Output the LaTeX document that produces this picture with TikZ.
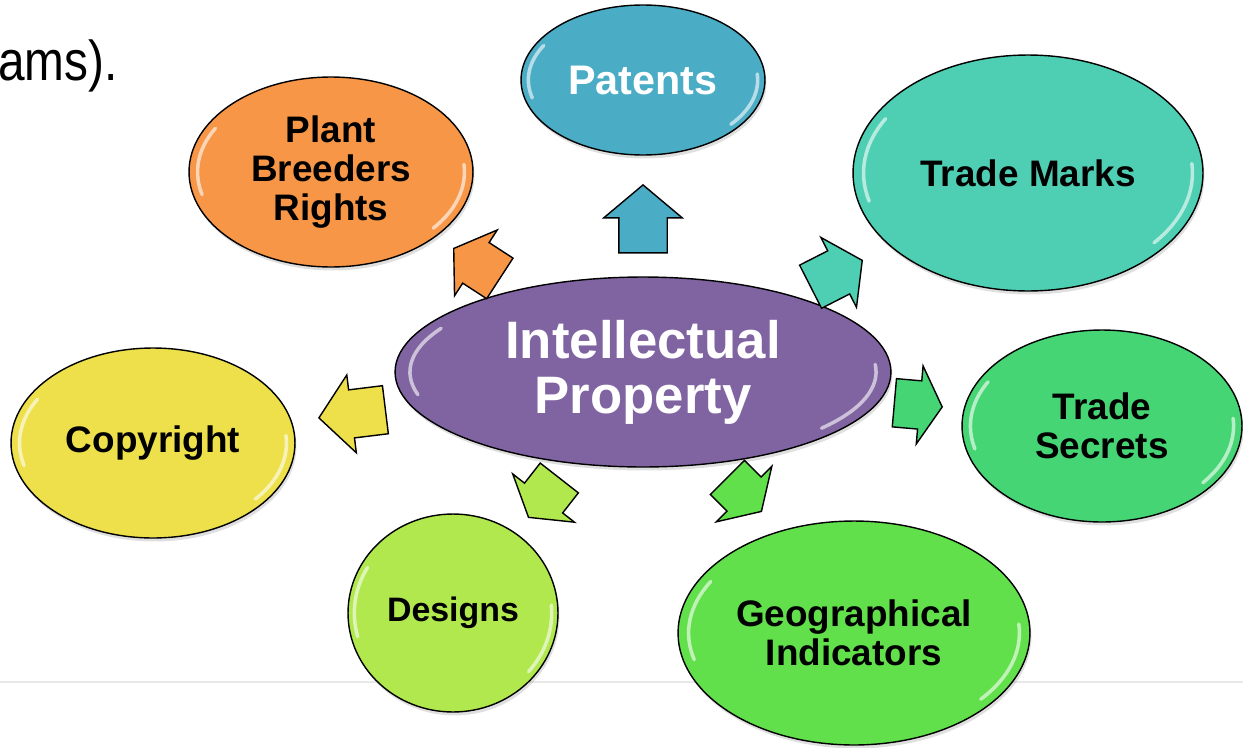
\documentclass[tikz,border=0pt]{standalone}
\usepackage{fontspec}
\setmainfont{Liberation Sans}
\usetikzlibrary{shapes.geometric,shapes.arrows,shadows,calc}
\definecolor{patentblue}{HTML}{4BACC6}
\definecolor{plantorange}{HTML}{F79646}
\definecolor{markteal}{HTML}{4ECFB3}
\definecolor{ippurple}{HTML}{8064A2}
\definecolor{copyyellow}{HTML}{EDE04B}
\definecolor{secretgreen}{HTML}{46D574}
\definecolor{designlime}{HTML}{B0E84E}
\definecolor{geogreen}{HTML}{62E04C}
\begin{document}
\begin{tikzpicture}[x=0.02cm,y=-0.02cm,
    bubble/.style={ellipse, draw=black, line width=0.8pt, inner sep=0pt, align=center,
        font=\bfseries\fontsize{21}{22}\selectfont,
        drop shadow={opacity=0.25, shadow xshift=0.03cm, shadow yshift=-0.07cm},
        path picture={
            \draw[white, opacity=0.6, line width=2pt, line cap=round]
                let \p1=(path picture bounding box.north east), \p2=(path picture bounding box.center),
                    \n1={0.94*(\x1-\x2)}, \n2={0.92*(\y1-\y2)} in
                (\p2) ++(150:{\n1*1pt} and {\n2*1pt})
                    arc[start angle=150, end angle=195, x radius={\n1*1pt}, y radius={\n2*1pt}]
                (\p2) ++(-40:{\n1*1pt} and {\n2*1pt})
                    arc[start angle=-40, end angle=5, x radius={\n1*1pt}, y radius={\n2*1pt}];
        }},
    blockarrow/.style={single arrow, draw=black, line width=0.8pt, anchor=tip,
        minimum width=1.54cm, inner xsep=0pt, inner ysep=0.47cm,
        single arrow head extend=0.3cm, single arrow tip angle=100}]
    \useasboundingbox (0,0) rectangle (1243,747);
    % slide text and rule
    \node[anchor=base west, inner sep=0pt, xscale=0.85, font=\fontsize{32}{34}\selectfont] (slidetext) at (-2,80) {ams).};
    \draw[gray!18, line width=0.04cm] (0,682) -- (1243,682);
    % bubbles
    \node[bubble, fill=patentblue, text=white, minimum width=4.88cm, minimum height=3.0cm,
        font=\bfseries\fontsize{23.5}{25}\selectfont] (patents) at (643,80) {Patents};
    \node[bubble, fill=plantorange, minimum width=5.68cm, minimum height=3.8cm] (plant) at (331,172) {Plant\\Breeders\\Rights};
    \node[bubble, fill=markteal, minimum width=7.0cm, minimum height=4.72cm] (marks) at (1028,173) {Trade Marks};
    \node[bubble, fill=copyyellow, minimum width=5.68cm, minimum height=3.8cm] (copyright) at (153,443) {Copyright};
    \node[bubble, fill=secretgreen, minimum width=5.6cm, minimum height=3.84cm] (secrets) at (1102,426) {Trade\\Secrets};
    \node[bubble, fill=designlime, minimum width=4.2cm, minimum height=3.96cm,
        font=\bfseries\fontsize{19.3}{21}\selectfont] (designs) at (453,613) {Designs};
    \node[bubble, fill=geogreen, minimum width=7.04cm, minimum height=4.48cm] (geo) at (854,633) {Geographical\\Indicators};
    \node[bubble, fill=ippurple, text=white, minimum width=9.92cm, minimum height=3.8cm,
        font=\bfseries\fontsize{30}{31.3}\selectfont] (ip) at (643,372) {Intellectual\\Property};
    % arrows, placed by their tips
    \node[blockarrow, fill=patentblue, rotate=90, minimum height=1.36cm] (topatents) at (643,184) {};
    \node[blockarrow, fill=plantorange, rotate=147, minimum height=1.1cm, single arrow tip angle=112] (toplant) at (453,248) {};
    \node[blockarrow, fill=markteal, rotate=27, minimum height=1.16cm, single arrow tip angle=112] (tomarks) at (863,260) {};
    \node[blockarrow, fill=copyyellow, rotate=187, minimum height=1.34cm] (tocopyright) at (318,418) {};
    \node[blockarrow, fill=secretgreen, rotate=-5, minimum height=0.96cm, single arrow tip angle=120] (tosecrets) at (943,407) {};
    \node[blockarrow, fill=designlime, rotate=-128, minimum height=1.0cm, single arrow tip angle=116] (todesigns) at (528,518) {};
    \node[blockarrow, fill=geogreen, rotate=-45, minimum height=0.96cm, single arrow tip angle=116] (togeo) at (762,512) {};
\end{tikzpicture}
\end{document}
